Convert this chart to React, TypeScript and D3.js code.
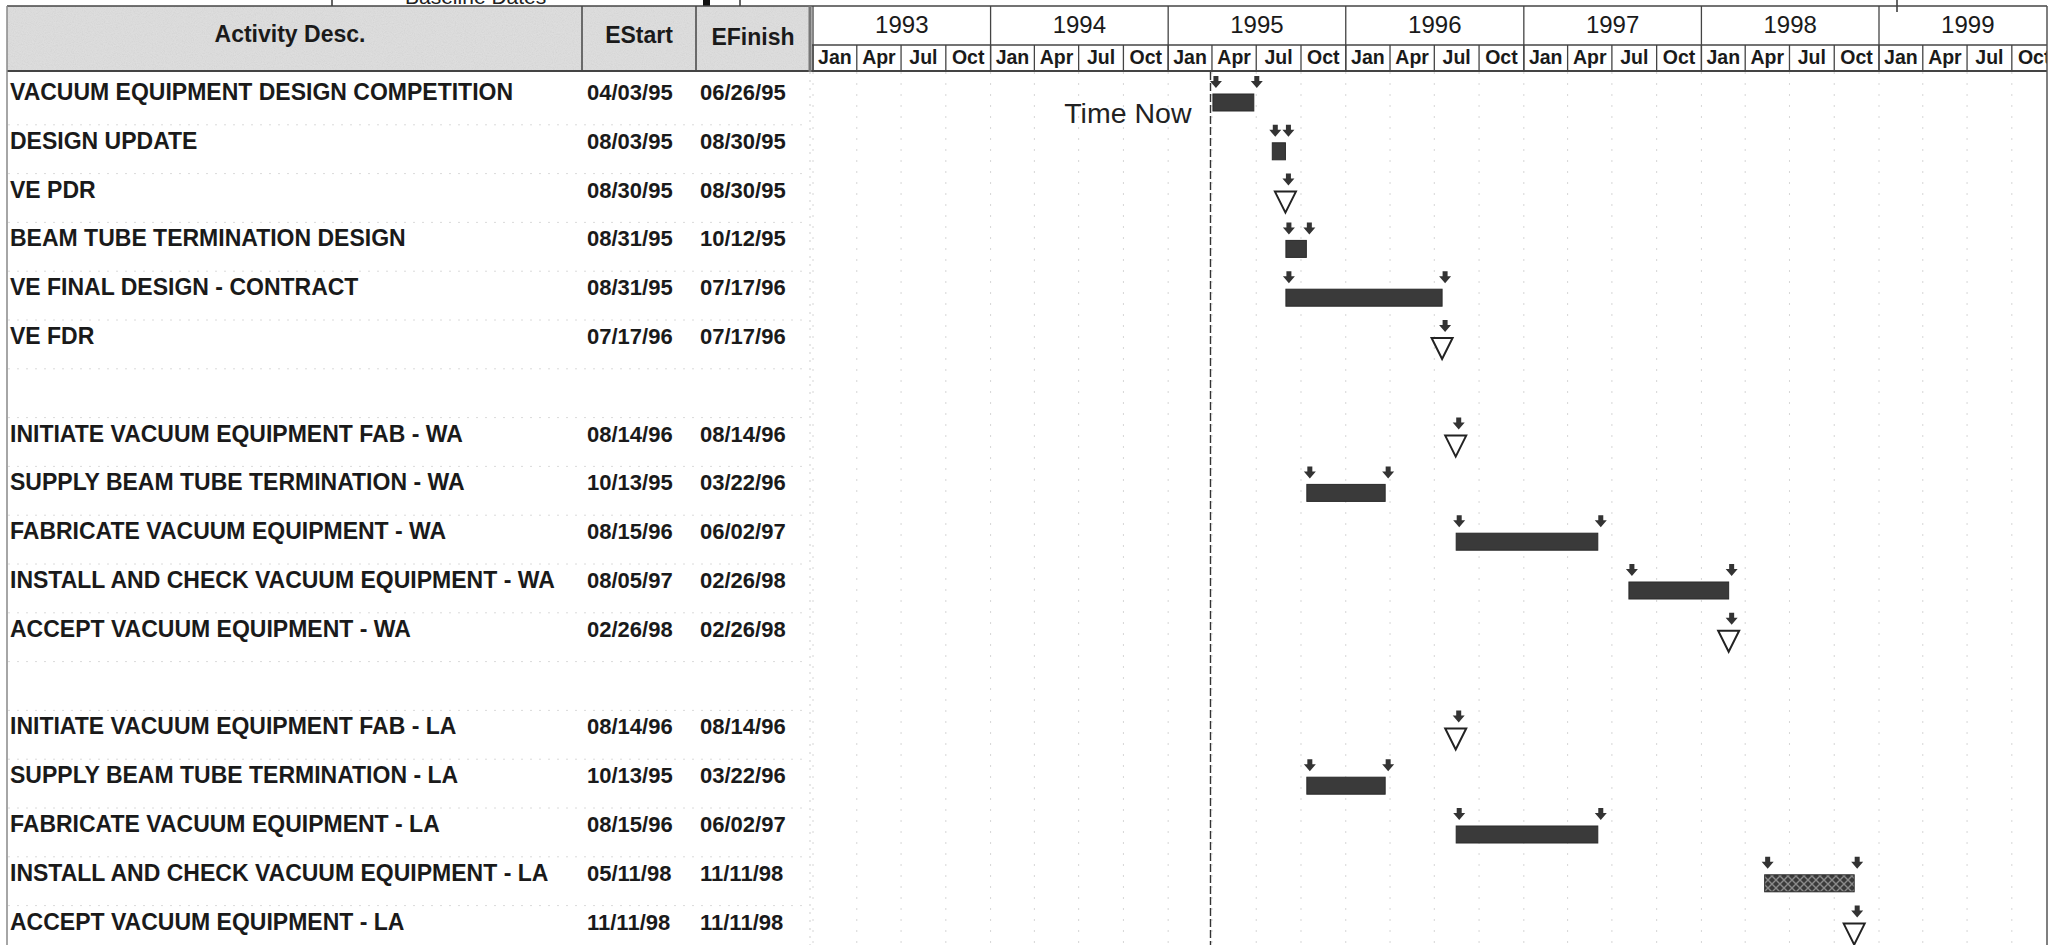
import React from 'react';
import * as d3 from 'd3';

const W = 2049;
const H = 945;

const activities = [
  'VACUUM EQUIPMENT DESIGN COMPETITION',
  'DESIGN UPDATE',
  'VE PDR',
  'BEAM TUBE TERMINATION DESIGN',
  'VE FINAL DESIGN - CONTRACT',
  'VE FDR',
  '',
  'INITIATE VACUUM EQUIPMENT FAB - WA',
  'SUPPLY BEAM TUBE TERMINATION - WA',
  'FABRICATE VACUUM EQUIPMENT - WA',
  'INSTALL AND CHECK VACUUM EQUIPMENT - WA',
  'ACCEPT VACUUM EQUIPMENT - WA',
  '',
  'INITIATE VACUUM EQUIPMENT FAB - LA',
  'SUPPLY BEAM TUBE TERMINATION - LA',
  'FABRICATE VACUUM EQUIPMENT - LA',
  'INSTALL AND CHECK VACUUM EQUIPMENT - LA',
  'ACCEPT VACUUM EQUIPMENT - LA',
];

const eStart = [
  '04/03/95', '08/03/95', '08/30/95', '08/31/95', '08/31/95', '07/17/96', '',
  '08/14/96', '10/13/95', '08/15/96', '08/05/97', '02/26/98', '',
  '08/14/96', '10/13/95', '08/15/96', '05/11/98', '11/11/98',
];

const eFinish = [
  '06/26/95', '08/30/95', '08/30/95', '10/12/95', '07/17/96', '07/17/96', '',
  '08/14/96', '03/22/96', '06/02/97', '02/26/98', '02/26/98', '',
  '08/14/96', '03/22/96', '06/02/97', '11/11/98', '11/11/98',
];

// bar kind: 'solid' normal activity, 'hatched' for the last LA install activity
const barKinds = [
  'solid', 'solid', 'solid', 'solid', 'solid', 'solid', '',
  'solid', 'solid', 'solid', 'solid', 'solid', '',
  'solid', 'solid', 'solid', 'hatched', 'solid',
];

const yearLabels = ['1993', '1994', '1995', '1996', '1997', '1998', '1999'];
const quarterLabels = ['Jan', 'Apr', 'Jul', 'Oct'];
const timeNowDate = '03/29/95';

const FONT = "'Liberation Sans', Arial, sans-serif";

export default function App() {
  const parse = d3.timeParse('%m/%d/%y');
  const x = d3
    .scaleTime()
    .domain([new Date(1993, 0, 1), new Date(1999, 0, 1)])
    .range([813, 1879]);
  const y = d3
    .scaleBand<number>()
    .domain(d3.range(activities.length))
    .range([76, 76 + activities.length * 48.8]);

  const chartL = 812;
  const chartR = 2047;
  const hdrTop = 6;
  const hdrMid = 45;
  const hdrBot = 72;

  const years = yearLabels.map((yl) => new Date(+yl, 0, 1));
  const quarters: Date[] = [];
  years.forEach((yd) => {
    for (let q = 0; q < 4; q++) quarters.push(new Date(yd.getFullYear(), q * 3, 1));
  });

  const tNow = x(parse(timeNowDate) as Date);

  const arrow = (cx: number, t: number) =>
    `M${cx - 2.5},${t} L${cx + 2.5},${t} L${cx + 2.5},${t + 5} L${cx + 6},${t + 5} L${cx},${t + 12} L${cx - 6},${t + 5} L${cx - 2.5},${t + 5} Z`;

  return (
    <svg
      width={W}
      height={H}
      viewBox={`0 0 ${W} ${H}`}
      style={{ position: 'absolute', left: 0, top: 0, background: '#fff' }}
    >
      <defs>
        <clipPath id="chartClip">
          <rect x={chartL} y={0} width={chartR - chartL} height={H} />
        </clipPath>
        <pattern id="hatch" width="8" height="8" patternUnits="userSpaceOnUse">
          <rect width="8" height="8" fill="#3a3a3a" />
          <path d="M0,0 L8,8 M8,0 L0,8" stroke="#8a8a8a" strokeWidth="1.4" />
        </pattern>
        <filter id="grain" x="0" y="0" width="100%" height="100%">
          <feTurbulence type="fractalNoise" baseFrequency="0.9" numOctaves="2" seed="3" result="n" />
          <feColorMatrix type="saturate" values="0" in="n" result="g" />
          <feComponentTransfer in="g" result="g2">
            <feFuncA type="linear" slope="0.22" />
          </feComponentTransfer>
          <feComposite in="g2" in2="SourceGraphic" operator="in" result="c" />
          <feBlend in="SourceGraphic" in2="c" mode="multiply" />
        </filter>
      </defs>

      {/* title strip remnants above the header */}
      <g fontFamily={FONT}>
        <text x={405} y={4} fontSize={21} fill="#222">Baseline Dates</text>
        <line x1={332} x2={332} y1={0} y2={hdrTop} stroke="#333" strokeWidth={1.5} />
        <rect x={703} y={0} width={7} height={hdrTop} fill="#111" />
        <line x1={740} x2={740} y1={0} y2={hdrTop} stroke="#333" strokeWidth={1.5} />
        <line x1={1897} x2={1897} y1={0} y2={hdrTop + 6} stroke="#333" strokeWidth={1.5} />
      </g>

      {/* left header */}
      <rect x={7} y={hdrTop} width={chartL - 7} height={hdrBot - 1 - hdrTop} fill="#e0e0e0" filter="url(#grain)" />
      <g stroke="#444" strokeWidth={1.5}>
        <line x1={7} x2={chartR} y1={hdrTop} y2={hdrTop} />
        <line x1={7} x2={chartR} y1={hdrBot - 1} y2={hdrBot - 1} strokeWidth={2} />
        <line x1={7} x2={7} y1={hdrTop} y2={H} stroke="#888" />
        <line x1={582} x2={582} y1={hdrTop} y2={hdrBot} />
        <line x1={696} x2={696} y1={hdrTop} y2={hdrBot} />
        <line x1={810} x2={810} y1={hdrTop} y2={hdrBot} strokeWidth={3} stroke="#777" />
      </g>
      <g fontFamily={FONT} fontWeight="bold" fontSize={23} fill="#1a1a1a" textAnchor="middle">
        <text x={290} y={42}>Activity Desc.</text>
        <text x={639} y={43}>EStart</text>
        <text x={753} y={45}>EFinish</text>
      </g>

      {/* faint row separators in the table area */}
      <g stroke="#dadada" strokeDasharray="2,7" strokeWidth={1}>
        {activities.map((_, i) => (
          <line key={i} x1={8} x2={808} y1={(y(i) as number) + y.bandwidth()} y2={(y(i) as number) + y.bandwidth()} />
        ))}
      </g>
      <line x1={810} x2={810} y1={hdrBot} y2={H} stroke="#cfcfcf" strokeDasharray="2,6" />

      {/* timeline header + body, clipped */}
      <g clipPath="url(#chartClip)">
        {/* faint quarter grid */}
        <g stroke="#d6d6d6" strokeDasharray="2,9" strokeWidth={1}>
          {quarters.map((q, i) => (
            <line key={i} x1={x(q)} x2={x(q)} y1={hdrBot} y2={H} />
          ))}
        </g>

        <line x1={chartL} x2={chartR} y1={hdrMid} y2={hdrMid} stroke="#444" strokeWidth={1.3} />
        <g stroke="#444" strokeWidth={1.3}>
          {years.map((yd, i) => (
            <line key={i} x1={x(yd)} x2={x(yd)} y1={hdrTop} y2={hdrBot} />
          ))}
          {quarters.map((q, i) => (
            <line key={i} x1={x(q)} x2={x(q)} y1={hdrMid} y2={hdrBot} />
          ))}
        </g>
        <g fontFamily={FONT} fontSize={24} fill="#1a1a1a" textAnchor="middle">
          {years.map((yd, i) => {
            const x0 = x(yd);
            const x1 = x(d3.timeYear.offset(yd, 1));
            return (
              <text key={i} x={(x0 + x1) / 2} y={33}>
                {yearLabels[i]}
              </text>
            );
          })}
        </g>
        <g fontFamily={FONT} fontSize={19.5} fontWeight="bold" fill="#1a1a1a" textAnchor="middle">
          {quarters.map((q, i) => {
            const x0 = x(q);
            const x1 = x(d3.timeMonth.offset(q, 3));
            return (
              <text key={i} x={(x0 + x1) / 2} y={64}>
                {quarterLabels[i % 4]}
              </text>
            );
          })}
        </g>

        {/* Time Now line */}
        <line x1={tNow} x2={tNow} y1={hdrBot} y2={H} stroke="#333" strokeWidth={1.4} strokeDasharray="8,3" />

        {/* bars and milestones */}
        {activities.map((a, i) => {
          if (!a) return null;
          const s = parse(eStart[i]) as Date;
          const f = parse(eFinish[i]) as Date;
          const top = (y(i) as number) + 18;
          const xs = x(s);
          const xf = x(f);
          if (+s === +f) {
            return (
              <g key={i}>
                <path d={arrow(xs + 3, top - 18)} fill="#333" />
                <path
                  d={`M${xs - 10.5},${top} L${xs + 10.5},${top} L${xs},${top + 21} Z`}
                  fill="#fff"
                  stroke="#222"
                  strokeWidth={2}
                  strokeLinejoin="miter"
                />
              </g>
            );
          }
          return (
            <g key={i}>
              <path d={arrow(xs + 3, top - 18)} fill="#333" />
              <path d={arrow(xf + 3, top - 18)} fill="#333" />
              <rect
                x={xs}
                y={top}
                width={xf - xs}
                height={17}
                fill={barKinds[i] === 'hatched' ? 'url(#hatch)' : '#3a3a3a'}
                stroke="#2a2a2a"
                strokeWidth={1}
              />
            </g>
          );
        })}
      </g>

      <text x={tNow - 19} y={123} fontFamily={FONT} fontSize={28.5} fill="#222" textAnchor="end">
        Time Now
      </text>

      {/* right border */}
      <line x1={chartR} x2={chartR} y1={hdrTop} y2={H} stroke="#555" strokeWidth={1.5} />

      {/* table rows */}
      <g fontFamily={FONT} fontWeight="bold" fontSize={23} fill="#1a1a1a">
        {activities.map((a, i) => {
          if (!a) return null;
          const base = (y(i) as number) + 24;
          return (
            <g key={i}>
              <text x={10} y={base}>{a}</text>
              <text x={587} y={base} fontSize={22}>{eStart[i]}</text>
              <text x={700} y={base} fontSize={22}>{eFinish[i]}</text>
            </g>
          );
        })}
      </g>
    </svg>
  );
}
